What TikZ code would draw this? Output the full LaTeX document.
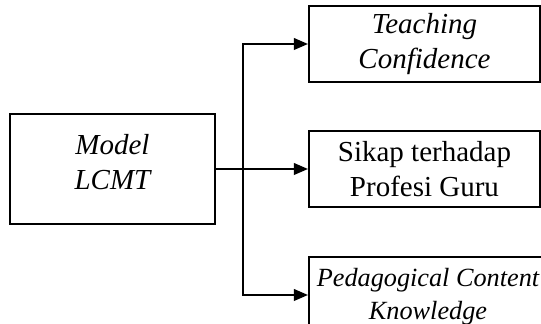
\documentclass[tikz,border=0pt]{standalone}
\usepackage{fontspec}
\setmainfont{Liberation Serif}
\usetikzlibrary{arrows.meta,positioning,calc}

\tikzset{
  box/.style={draw, line width=0.8pt, rectangle, inner sep=0pt},
  outbox/.style={box, minimum width=92.4pt, minimum height=30.4pt, align=center,
    font=\fontsize{11.6}{13.8}\selectfont},
  txt/.style={align=center, font=\fontsize{11.6}{14.2}\selectfont},
  smalltxt/.style={align=center, font=\fontsize{10.5}{13.2}\selectfont},
}

\begin{document}
\begin{tikzpicture}[x=0.4pt, y=-0.4pt, >={Triangle[length=5.6pt,width=4.6pt]}, line width=0.8pt]
  \useasboundingbox (0,0) rectangle (541,324);
  % input box
  \node[box, minimum width=82pt, minimum height=44pt] (lcmt) at (112.5,169) {};
  \node[txt] (lcmttext) at (112.5,162) {\itshape Model\\\itshape LCMT};
  % output boxes
  \node[outbox] (teach) at (424.5,44) {\itshape Teaching\\\itshape Confidence};
  \node[outbox] (sikap) at (424.5,169) {Sikap terhadap\\Profesi Guru};
  \node[box, minimum width=100.4pt, minimum height=30.4pt] (pck) at (434.5,295) {};
  \node[smalltxt] (pcktext) at (428,297) {\itshape Pedagogical Content\\\itshape Knowledge};
  % connectors
  \coordinate (spine) at (243,169);
  \draw[->] (lcmt.east) -- (sikap.west);
  \draw[->] (spine) |- (teach.west);
  \draw[->] (spine) |- (pck.west);
\end{tikzpicture}
\end{document}
